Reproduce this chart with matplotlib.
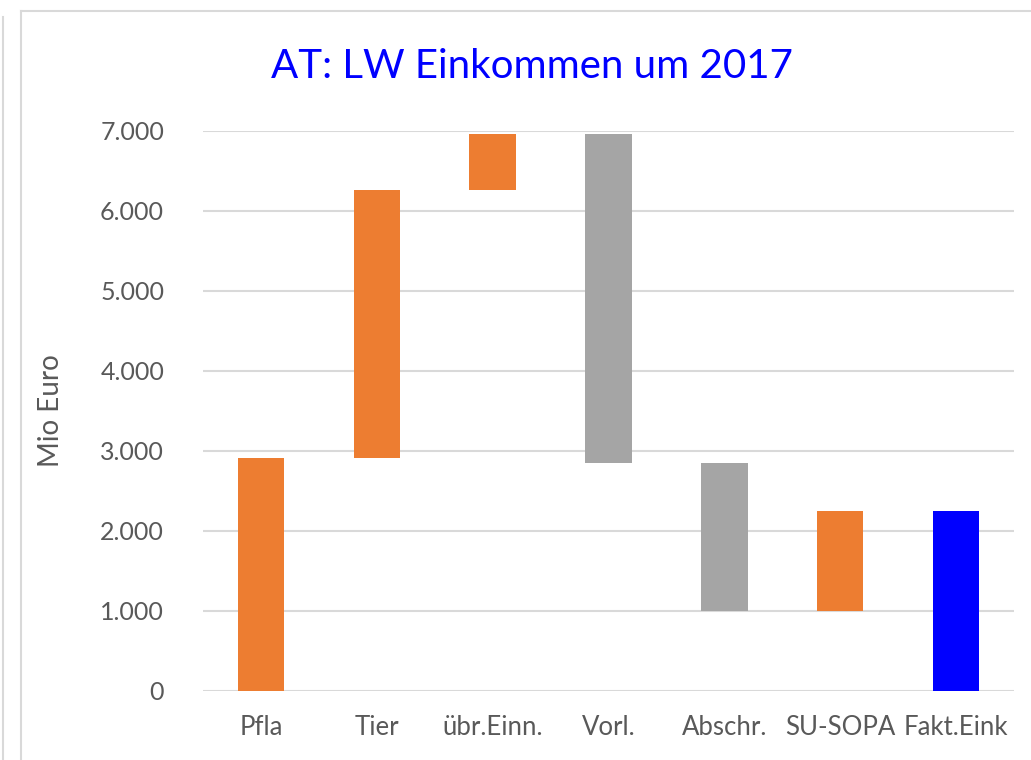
import matplotlib.pyplot as plt
from matplotlib.lines import Line2D

categories = ["Pfla", "Tier", "übr.Einn.", "Vorl.", "Abschr.", "SU-SOPA", "Fakt.Eink"]
bar_start = [0, 2910, 6260, 2850, 1000, 1000, 0]
bar_end = [2910, 6260, 6960, 6960, 2850, 2250, 2250]
bar_kind = ["plus", "plus", "plus", "minus", "minus", "plus", "total"]

colors = {"plus": "#ED7D31", "minus": "#A5A5A5", "total": "#0000FF"}
txt = "#595959"
W, H = 1031, 760

plt.rcParams["font.family"] = ["Lato", "DejaVu Sans"]
fig = plt.figure(figsize=(W / 100, H / 100), dpi=100)
ax = fig.add_axes([203 / W, 1 - 691 / H, (1014 - 203) / W, (691 - 131) / H])

x = list(range(len(categories)))
heights = [e - s for s, e in zip(bar_start, bar_end)]
ax.bar(x, heights, bottom=bar_start, width=0.4,
       color=[colors[k] for k in bar_kind], zorder=3)

ax.set_xlim(-0.5, len(categories) - 0.5)
ax.set_ylim(0, 7000)
ax.set_yticks(range(0, 7001, 1000))
ax.set_yticklabels(["0" if v == 0 else f"{v // 1000}.000" for v in range(0, 7001, 1000)])
ax.set_xticks(x)
ax.set_xticklabels(categories)
ax.tick_params(axis="y", length=0, labelsize=18, labelcolor=txt, pad=28)
ax.tick_params(axis="x", length=0, labelsize=18.5, labelcolor=txt, pad=17)
ax.grid(axis="y", color="#D9D9D9", linewidth=1.5, zorder=0)
for s in ax.spines.values():
    s.set_visible(False)

ax.set_ylabel("Mio Euro", fontsize=20, color=txt, labelpad=26)
fig.text(532 / W, 1 - 67 / H, "AT: LW Einkommen um 2017", color="#0000FF",
         fontsize=29, ha="center", va="center")

# chart frame
fc = "#D9D9D9"
fig.add_artist(Line2D([21 / W, 21 / W], [0, 1 - 11 / H], color=fc, lw=1.5))
fig.add_artist(Line2D([21 / W, 1], [1 - 11 / H, 1 - 11 / H], color=fc, lw=1.5))
fig.add_artist(Line2D([3 / W, 3 / W], [0, 1 - 17 / H], color=fc, lw=1.5))

fig.savefig("out.png", dpi=100)
